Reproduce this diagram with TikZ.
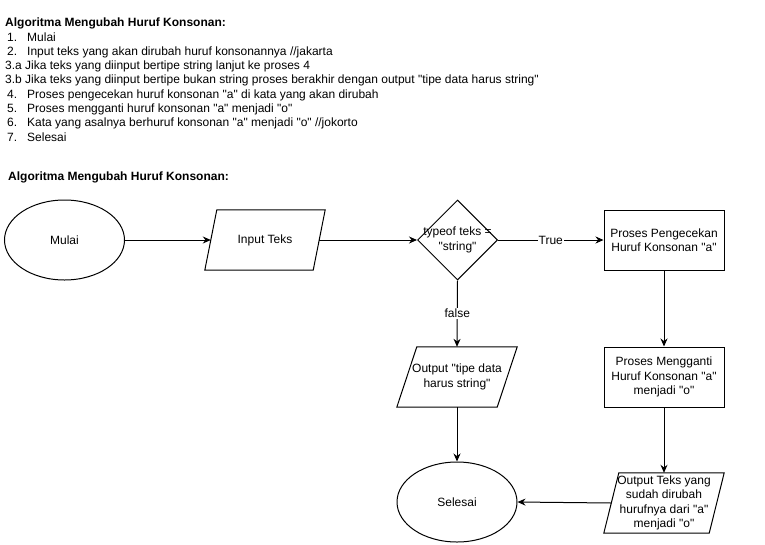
\documentclass[tikz,border=0pt]{standalone}
\usepackage{fontspec}
\setmainfont{Liberation Sans}[Ligatures=TeXOff]
\usetikzlibrary{shapes.geometric,arrows.meta,calc}
\newcommand\paraDraw[2]{\draw[line width=1pt] ($(#1.north west)+(#2,0)$) -- ($(#1.north east)+(#2,0)$) -- ($(#1.south east)+(-#2,0)$) -- ($(#1.south west)+(-#2,0)$) -- cycle;}
\begin{document}
\begin{tikzpicture}[x=1pt,y=-1pt,
  every node/.style={font=\fontsize{12pt}{14.4pt}\selectfont},
  txt/.style={anchor=base west,inner sep=0pt},
  ttl/.style={txt,font=\fontsize{12pt}{14.4pt}\selectfont\bfseries},
  term/.style={draw,ellipse,minimum width=120pt,minimum height=80pt,inner sep=0pt,line width=1pt},
  proc/.style={draw,rectangle,minimum width=120pt,minimum height=60pt,align=center,inner sep=0pt,line width=1pt},
  iobox/.style={rectangle,minimum height=60pt,align=center,inner sep=0pt},
  dec/.style={draw,diamond,minimum width=80pt,minimum height=80pt,inner sep=0pt,line width=1pt},
  arr/.style={-{Stealth[length=8pt,width=7pt]},line width=1pt},
  lbl/.style={fill=white,inner sep=1pt}
]
\useasboundingbox (0,0) rectangle (765,544);

% algorithm text
\node[ttl] (t1) at (5,26) {Algoritma Mengubah Huruf Konsonan:};
\node[txt] (n1) at (7,41) {1.};  \node[txt] (l1) at (27,41) {Mulai};
\node[txt] (n2) at (7,55) {2.};  \node[txt] (l2) at (27,55) {Input teks yang akan dirubah huruf konsonannya //jakarta};
\node[txt] (l3a) at (5,69) {3.a Jika teks yang diinput bertipe string lanjut ke proses 4};
\node[txt] (l3b) at (5,83) {3.b Jika teks yang diinput bertipe bukan string proses berakhir dengan output "tipe data harus string"};
\node[txt] (n4) at (7,98) {4.};  \node[txt] (l4) at (27,98) {Proses pengecekan huruf konsonan "a" di kata yang akan dirubah};
\node[txt] (n5) at (7,112) {5.}; \node[txt] (l5) at (27,112) {Proses mengganti huruf konsonan "a" menjadi "o"};
\node[txt] (n6) at (7,126) {6.}; \node[txt] (l6) at (27,126) {Kata yang asalnya berhuruf konsonan "a" menjadi "o" //jokorto};
\node[txt] (n7) at (7,141) {7.}; \node[txt] (l7) at (27,141) {Selesai};
\node[ttl] (t2) at (8,180) {Algoritma Mengubah Huruf Konsonan:};

% flowchart nodes
\node[term] (mulai) at (64.5,240) {Mulai};
\node[iobox,minimum width=108pt] (inp) at (265,240) {Input Teks};
\paraDraw{inp}{6}
\node[dec] (dia) at (457.5,240) {};
\node[align=center,inner sep=0pt] (diat) at (dia.center) {typeof teks =\\"string"};
\node[proc] (pp) at (664,240) {Proses Pengecekan\\Huruf Konsonan "a"};
\node[iobox,minimum width=100pt] (outs) at (457,377) {Output "tipe data\\harus string"};
\paraDraw{outs}{10}
\node[proc] (pm) at (664,377) {Proses Mengganti\\Huruf Konsonan "a"\\menjadi "o"};
\node[iobox,minimum width=105pt] (outt) at (664,503) {Output Teks yang\\sudah dirubah\\hurufnya dari "a"\\menjadi "o"};
\paraDraw{outt}{7.5}
\node[term] (sel) at (457,502) {Selesai};

% connectors
\draw[arr] (mulai.east) -- (inp.west);
\draw[arr] (inp.east) -- (dia.west);
\draw[arr] (dia.east) -- node[lbl] {True} (pp.west);
\draw[arr] (dia.south) -- node[lbl] {false} (outs.north);
\draw[arr] (pp.south) -- (pm.north);
\draw[arr] (pm.south) -- (outt.north);
\draw[arr] (outs.south) -- (sel.north);
\draw[arr] (outt.west) -- (sel.east);
\end{tikzpicture}
\end{document}
